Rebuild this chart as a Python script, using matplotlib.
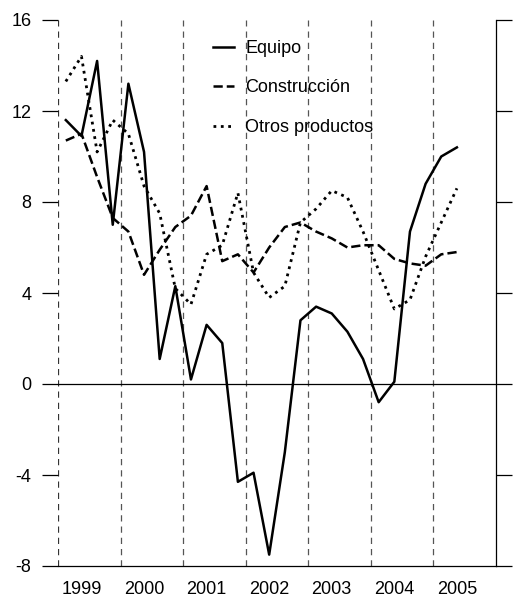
import matplotlib
matplotlib.use('Agg')
import matplotlib.pyplot as plt
import numpy as np

plt.rcParams['font.family'] = ['Liberation Sans', 'DejaVu Sans']

# trimestres 1999T1 .. 2005T2
years = [1999, 2000, 2001, 2002, 2003, 2004, 2005]
n_quarters = 26

equipo = [11.6, 10.9, 14.2, 7.0, 13.2, 10.2, 1.1, 4.3, 0.2, 2.6, 1.8, -4.3, -3.9,
          -7.5, -3.0, 2.8, 3.4, 3.1, 2.3, 1.1, -0.8, 0.1, 6.7, 8.8, 10.0, 10.4]
construccion = [10.7, 11.0, 9.1, 7.3, 6.7, 4.8, 5.9, 6.9, 7.4, 8.7, 5.4, 5.7, 4.9,
                6.0, 6.9, 7.1, 6.7, 6.4, 6.0, 6.1, 6.1, 5.5, 5.3, 5.2, 5.7, 5.8]
otros = [13.3, 14.4, 10.2, 11.6, 11.0, 8.7, 7.5, 4.2, 3.5, 5.7, 6.1, 8.4, 4.9,
         3.8, 4.3, 7.1, 7.7, 8.5, 8.2, 6.7, 5.0, 3.3, 3.7, 5.6, 7.1, 8.6]
y_ticks = [16, 12, 8, 4, 0, -4, -8]

x = years[0] + (np.arange(n_quarters) + 0.5) / 4.0

fig = plt.figure(figsize=(5.2, 6.0), dpi=100)
ax = fig.add_axes([58 / 520, 34 / 600, 438 / 520, 546 / 600])

# separadores de año
for yr in years:
    c = '#333333' if yr == years[0] else '#555555'
    ax.axvline(yr, color=c, linestyle=(0, (5, 4)), linewidth=0.9, zorder=1)
ax.axhline(0, color='black', linewidth=0.9, zorder=1)

ax.plot(x, equipo, color='black', linewidth=1.8, linestyle='-', label='Equipo', zorder=3)
ax.plot(x, construccion, color='black', linewidth=1.8, linestyle='--', label='Construcción', zorder=3)
ax.plot(x, otros, color='black', linewidth=2.0, linestyle=':', label='Otros productos', zorder=3)

ax.set_xlim(1999, 2006)
ax.set_ylim(-8, 16)
ax.set_yticks(y_ticks)
ax.set_yticklabels([str(v) for v in y_ticks], fontsize=13)
ax.tick_params(axis='y', which='both', direction='out', length=11.5, width=0.9,
               left=True, right=True, labelleft=True, labelright=False, pad=7.5)
# etiquetas de año centradas en el segundo trimestre
ax.set_xticks([yr + 0.375 for yr in years])
ax.set_xticklabels([str(yr) for yr in years], fontsize=13)
ax.tick_params(axis='x', length=0, pad=11)

ax.spines['top'].set_visible(False)
ax.spines['left'].set_visible(False)
ax.spines['right'].set_linewidth(0.9)
ax.spines['bottom'].set_linewidth(0.9)

ax.legend(loc='upper left', bbox_to_anchor=(0.322, 0.99), frameon=False, fontsize=13,
          handlelength=1.15, handletextpad=0.6, labelspacing=1.25, borderpad=0.3)

plt.savefig('out.png', dpi=100)
